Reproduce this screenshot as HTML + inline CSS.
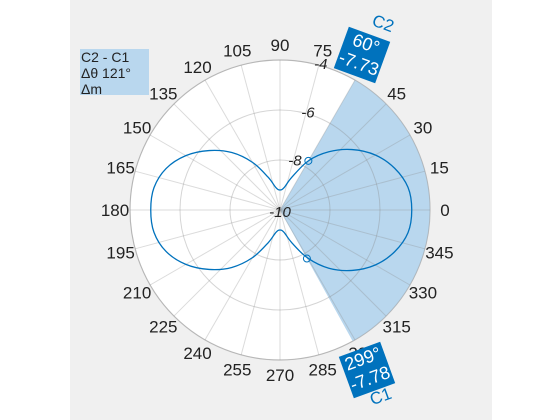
<!DOCTYPE html>
<html><head><meta charset="utf-8"><style>
body{margin:0;width:560px;height:420px;background:#fff;overflow:hidden;font-family:"Liberation Sans",sans-serif}
#bg{position:absolute;left:70px;top:0;width:422px;height:420px;background:#f0f0f0}
svg{position:absolute;left:0;top:0}
.tip{position:absolute;background:#0072bd;color:#fff;font-size:18px;line-height:21px;text-align:center}
</style></head><body>
<div id="bg"></div>
<svg id="chart" width="560" height="420"></svg>
<div style="position:absolute;left:80px;top:49px;width:68px;height:46px;overflow:hidden;background:#b9d7ee;font-size:14px;line-height:16px;color:#222;padding-left:1px">C2 - C1<br>Δθ 121°<br>Δm</div>
<div class="tip" style="left:340px;top:33px;width:44px;height:44px;transform:rotate(20deg)">60°<br>-7.73</div>
<div style="position:absolute;left:372px;top:14px;color:#0072bd;font-size:17px;transform:rotate(20deg)">C2</div>
<div class="tip" style="left:345px;top:348px;width:44px;height:44px;transform:rotate(-20deg)">299°<br>-7.78</div>
<div style="position:absolute;left:370px;top:387px;color:#0072bd;font-size:17px;transform:rotate(-20deg)">C1</div>
<script>
const angles=[0,10,20,30,40,50,60,70,80,90,100,110,120,130,140,150,160,170,180,190,200,210,220,230,240,250,260,270,280,290,300,310,320,330,340,350];
const values=[-4.73,-4.8,-5.12,-5.6,-6.24,-6.96,-7.73,-8.6,-9.1,-9.2,-9.1,-8.6,-7.8,-7.0,-6.3,-5.65,-5.15,-4.88,-4.83,-4.88,-5.15,-5.65,-6.3,-7.0,-7.8,-8.6,-9.1,-9.2,-9.1,-8.6,-7.78,-6.96,-6.24,-5.6,-5.12,-4.8];
const rTicks=[-10,-8,-6,-4];
const thetaTicks=[0,15,30,45,60,75,90,105,120,135,150,165,180,195,210,225,240,255,270,285,300,315,330,345];
const cursorAngles=[299,60];
const cursorValues=[-7.78,-7.73];
const cx=280,cy=210,R=150,rMin=-10,rMax=-4;
const NS="http://www.w3.org/2000/svg";const svg=document.getElementById('chart');
function rs(v){return Math.max(0,(v-rMin)/(rMax-rMin)*R);}
function pt(a,r){const t=a*Math.PI/180;return [cx+r*Math.cos(t),cy-r*Math.sin(t)];}
function mk(tag,at){const e=document.createElementNS(NS,tag);for(const k in at)e.setAttribute(k,at[k]);svg.appendChild(e);return e;}
let e=mk('circle',{cx:cx,cy:cy,r:R,fill:'#fff',stroke:'#d0d0d0','stroke-width':1.2});


const a1=cursorAngles[0],a2=cursorAngles[1]+360;
const p1=pt(a1,R),p2=pt(a2,R);
e=mk('path',{d:`M${cx},${cy}L${p1[0]},${p1[1]}A${R},${R} 0 ${(a2-a1)>180?1:0} 0 ${p2[0]},${p2[1]}Z`,fill:'#b9d7ee'});


thetaTicks.forEach(a=>{const p=pt(a,R);const l=mk('line',{x1:cx,y1:cy,x2:p[0],y2:p[1],stroke:'#888','stroke-opacity':0.3,'stroke-width':1});


const q=pt(a,R+15);const t=mk('text',{x:q[0],y:q[1]+6,'text-anchor':'middle','font-size':17,fill:'#222'});t.textContent=a;

});
rTicks.forEach(v=>{if(v>rMin){const c=mk('circle',{cx:cx,cy:cy,r:rs(v),fill:'none',stroke:'#888','stroke-opacity':0.35,'stroke-width':1});

}
const q=pt(75,rs(v));const t=mk('text',{x:q[0]+(v==rMin?0:2),y:q[1]+(v==rMin?7:4),'text-anchor':'middle','font-size':15,'font-style':'italic',fill:'#222'});t.textContent=v;

});
const P=angles.map((a,i)=>pt(a,rs(values[i])));const n=P.length;
let d=`M${P[0][0]},${P[0][1]}`;
for(let i=0;i<n;i++){const p0=P[(i-1+n)%n],p1_=P[i],p2_=P[(i+1)%n],p3=P[(i+2)%n];
d+=`C${p1_[0]+(p2_[0]-p0[0])/6},${p1_[1]+(p2_[1]-p0[1])/6} ${p2_[0]-(p3[0]-p1_[0])/6},${p2_[1]-(p3[1]-p1_[1])/6} ${p2_[0]},${p2_[1]}`;}
e=mk('path',{d:d+'Z',fill:'none',stroke:'#0072bd','stroke-width':1.3});


cursorAngles.forEach((a,i)=>{const p=pt(a,rs(cursorValues[i]));const c=mk('circle',{cx:p[0],cy:p[1],r:3.5,fill:'none',stroke:'#0072bd','stroke-width':1});

});
</script>
</body></html>
